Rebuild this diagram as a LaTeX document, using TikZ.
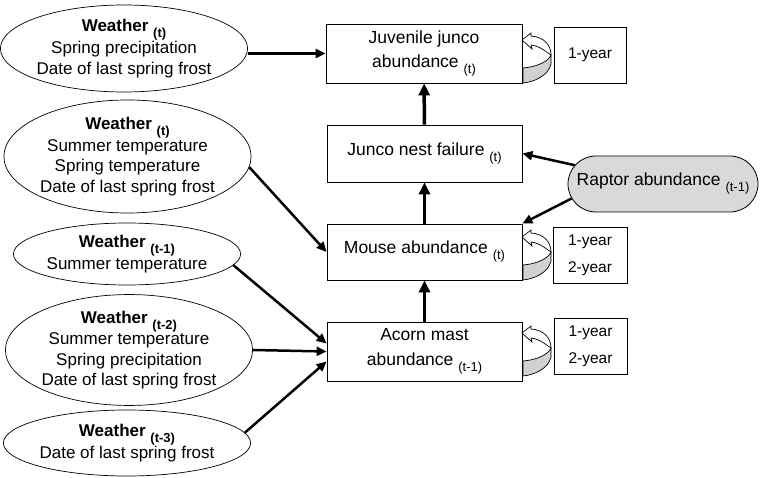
\documentclass[tikz,border=0pt]{standalone}
\usepackage{fontspec}
\setmainfont{Liberation Sans}
\usetikzlibrary{shapes.geometric,shapes.misc,arrows.meta}
\newcommand{\tsub}[1]{\raisebox{-6pt}{\fontsize{13}{13}\selectfont #1}}
\newcommand{\curl}[1]{
	\begin{scope}[shift={#1},line width=0.7pt]
		\draw[fill=white] (0,0) -- (9,-7) -- (9,-4) .. controls (22,-3) and (29,5) .. (29,15) .. controls (24,12) and (18,6) .. (9,5) -- (10,9) -- cycle;
		\draw[fill=black!18] (29,15) -- (29,24) .. controls (26,36) and (12,42) .. (1,43) -- (1,28) .. controls (14,27) and (26,22) .. (29,15) -- cycle;
	\end{scope}}

\begin{document}
\begin{tikzpicture}[x=1pt,y=-1pt,
	ell/.style={draw,ellipse,inner sep=0pt,line width=0.7pt,align=center,font=\fontsize{17}{20.5}\selectfont},
	box/.style={draw,rectangle,inner sep=0pt,line width=0.8pt,align=center,font=\fontsize{17.5}{24.5}\selectfont},
	yearbox/.style={draw,rectangle,inner sep=0pt,line width=0.8pt,align=center,minimum width=73pt,minimum height=56pt,font=\fontsize{15.5}{27}\selectfont},
	link/.style={line width=2.5pt,-{Triangle[length=10pt,width=9pt]}},
	uplink/.style={line width=3.5pt,-{Triangle[length=12pt,width=11pt]}}]
				\useasboundingbox (0,0) rectangle (764,478);
				\node[ell,minimum width=222pt,minimum height=87pt] (w1) at (124,48.5) {\textbf{Weather \tsub{(t)}}\\Spring precipitation\\Date of last spring frost};
				\node[ell,minimum width=241pt,minimum height=113pt] (w2) at (127.5,156.5) {\textbf{Weather \tsub{(t)}}\\Summer temperature\\Spring temperature\\Date of last spring frost};
				\node[ell,minimum width=220pt,minimum height=62pt] (w3) at (127,254) {\textbf{Weather \tsub{(t-1)}}\\Summer temperature};
				\node[ell,minimum width=238pt,minimum height=110pt] (w4) at (129,350) {\textbf{Weather \tsub{(t-2)}}\\Summer temperature\\Spring precipitation\\Date of last spring frost};
				\node[ell,minimum width=220pt,minimum height=66pt] (w5) at (127,443) {\textbf{Weather \tsub{(t-3)}}\\Date of last spring frost};
				\node[box,minimum width=196pt,minimum height=59pt] (juv) at (424,53.5) {Juvenile junco\\abundance \tsub{(t)}};
				\node[box,minimum width=195pt,minimum height=57pt] (nest) at (424.5,153.5) {Junco nest failure \tsub{(t)}};
				\node[box,minimum width=195pt,minimum height=56pt] (mouse) at (424.5,252) {Mouse abundance \tsub{(t)}};
				\node[box,minimum width=195pt,minimum height=59pt] (acorn) at (424.5,351.5) {Acorn mast\\abundance \tsub{(t-1)}};
				\node[draw,rounded rectangle,fill=black!15,inner sep=0pt,line width=0.8pt,minimum width=190pt,minimum height=56pt,font=\fontsize{17.5}{21}\selectfont] (raptor) at (663,184) {Raptor abundance \tsub{(t-1)}};
				\node[yearbox,minimum width=72pt] (juvyr) at (590,55) {1-year};
				\node[yearbox,minimum width=74pt] (mouseyr) at (590,255) {1-year\\2-year};
				\node[yearbox] (acornyr) at (590.5,346) {1-year\\2-year};
				\curl{(522,40)}
				\curl{(522,237)}
				\curl{(522,333)}
				\draw[link] (w1.east |- juv.west) to (juv.west);
				\draw[link] (w2.-5) to (mouse.west);
				\draw[link] (w3.-6) to ([yshift=8pt]acorn.west);
				\draw[link] (w4.east) to (acorn.west);
				\draw[link] (w5.5) to ([yshift=-10pt]acorn.west);
				\draw[uplink] (acorn) to (mouse);
				\draw[uplink] (mouse) to (nest);
				\draw[uplink] (nest) to (juv);
				\draw[link] (raptor.168) to (nest.east);
				\draw[link] (raptor.189) to (mouse.north east);
			\end{tikzpicture}
\end{document}
